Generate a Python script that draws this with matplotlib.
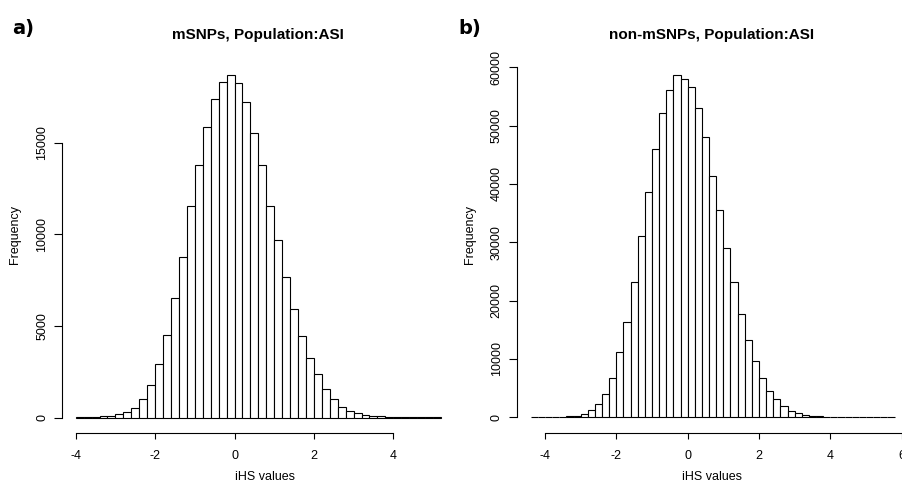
import numpy as np
import matplotlib
matplotlib.use("Agg")
import matplotlib.pyplot as plt

plt.rcParams['font.family'] = ['Liberation Sans', 'DejaVu Sans']
plt.rcParams['axes.unicode_minus'] = False

# iHS histogram counts, bin width 0.2
bin_width = 0.2

msnp_first_edge = -4.0
msnp_counts = [5, 15, 35, 60, 100, 173, 282, 537, 992, 1792,
               2938, 4521, 6505, 8779, 11563, 13801, 15875, 17403, 18331, 18677,
               18241, 17221, 15511, 13801, 11563, 9707, 7669, 5904, 4467, 3266,
               2374, 1538, 1028, 591, 373, 264, 155, 100, 64, 35,
               20, 8, 4, 2, 1, 1]

non_first_edge = -4.4
non_counts = [2, 5, 12, 30, 70, 150, 300, 623, 1195, 2223,
              3994, 6681, 11194, 16337, 23252, 31024, 38680, 46052, 52110, 56110,
              58625, 58052, 56680, 53080, 47995, 41367, 35538, 28967, 23252, 17652,
              13252, 9595, 6681, 4566, 3080, 1937, 1080, 680, 451, 280,
              170, 110, 70, 40, 22, 12, 7, 4, 2, 1, 1]

xticks_a = [-4, -2, 0, 2, 4]
yticks_a = [0, 5000, 10000, 15000]
xticks_b = [-4, -2, 0, 2, 4, 6]
yticks_b = [0, 10000, 20000, 30000, 40000, 50000, 60000]

titles = ["mSNPs, Population:ASI", "non-mSNPs, Population:ASI"]
panel_tags = ["a)", "b)"]

W, H = 902, 492
fig = plt.figure(figsize=(W / 100, H / 100), dpi=100)


def make_axes(left, right, top, bottom, x0_px, x_scale, y0_px, y_scale):
    """Axes placed in pixel space; x_scale px per unit, y_scale px per count."""
    ax = fig.add_axes([left / W, 1 - bottom / H, (right - left) / W, (bottom - top) / H])
    ax.set_xlim((left - x0_px) / x_scale, (right - x0_px) / x_scale)
    ax.set_ylim((y0_px - bottom) / y_scale, (y0_px - top) / y_scale)
    return ax


def style(ax, xticks, yticks):
    for s in ("top", "right"):
        ax.spines[s].set_visible(False)
    for s in ("left", "bottom"):
        ax.spines[s].set_linewidth(0.8)
    ax.spines["bottom"].set_bounds(xticks[0], xticks[-1])
    ax.spines["left"].set_bounds(yticks[0], yticks[-1])
    ax.set_xticks(xticks)
    ax.set_xticklabels([str(t) for t in xticks])
    ax.set_yticks(yticks)
    ax.set_yticklabels([str(t) for t in yticks], rotation=90, va="center")
    ax.tick_params(axis="x", length=4, width=0.8, pad=8, labelsize=9)
    ax.tick_params(axis="y", length=6, width=0.8, pad=4, labelsize=9)
    ax.patch.set_alpha(0)


def draw_hist(ax, first_edge, counts):
    n = len(counts)
    lefts = first_edge + bin_width * np.arange(n)
    ax.bar(lefts, counts, width=bin_width, align="edge",
           facecolor="white", edgecolor="black", linewidth=0.8)


ax_a = make_axes(62, 450, 60, 433, 234.5, 39.7, 417.5, 0.01832)
draw_hist(ax_a, msnp_first_edge, msnp_counts)
style(ax_a, xticks_a, yticks_a)

ax_b = make_axes(516.7, 901.7, 60, 433, 687.7, 35.67, 417.3, 0.005833)
draw_hist(ax_b, non_first_edge, non_counts)
style(ax_b, xticks_b, yticks_b)


def ftext(x, y, s, **kw):
    fig.text(x / W, 1 - y / H, s, **kw)


ftext(258, 39, titles[0], ha="center", va="baseline", fontsize=11, fontweight="bold")
ftext(711.5, 39, titles[1], ha="center", va="baseline", fontsize=11, fontweight="bold")

ftext(12, 34, panel_tags[0], ha="left", va="baseline", fontsize=14, fontweight="heavy",
      family=["DejaVu Sans"])
ftext(458, 34, panel_tags[1], ha="left", va="baseline", fontsize=14, fontweight="heavy",
      family=["DejaVu Sans"])

ftext(265, 477, "iHS values", ha="center", va="center", fontsize=9)
ftext(712, 477, "iHS values", ha="center", va="center", fontsize=9)

ftext(15, 235, "Frequency", ha="center", va="center", rotation=90, fontsize=9)
ftext(470, 235, "Frequency", ha="center", va="center", rotation=90, fontsize=9)

fig.savefig("out.png", dpi=100)
